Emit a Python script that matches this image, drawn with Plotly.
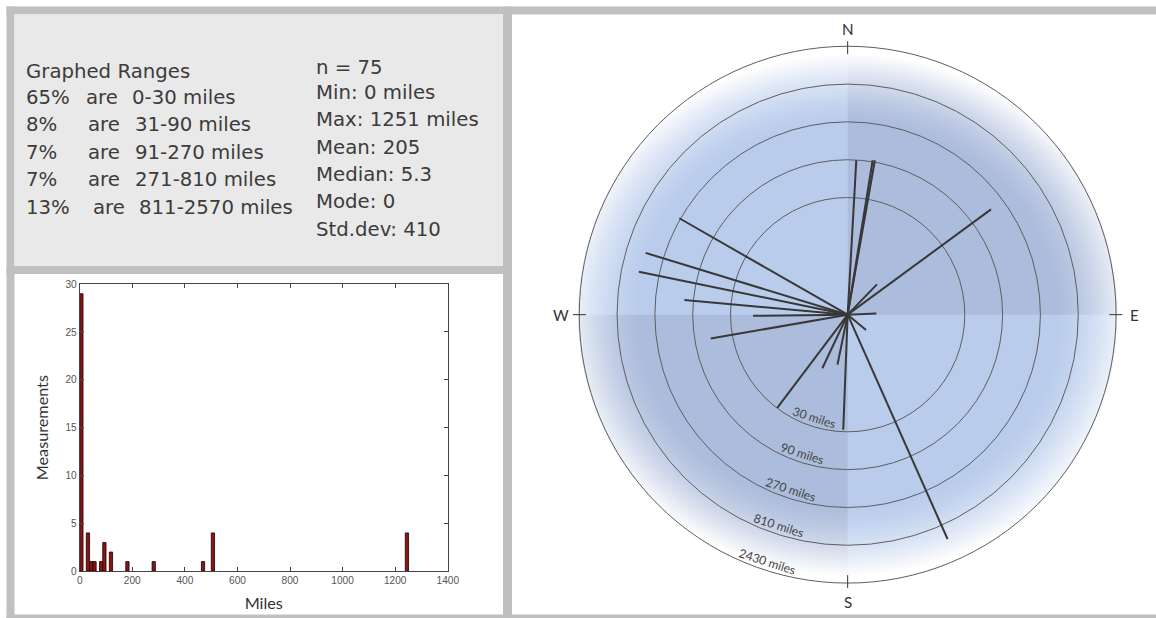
import base64, struct, zlib
import numpy as np
import plotly.graph_objects as go

W, H = 1156, 618
# the capture maps page pixels to picture pixels as  pic = SC * page + OFF ;
# layout coordinates below are written in picture pixels and converted back.
SC, OFF = 0.988, 2.5

# ---------------- data ----------------
# histogram (MATLAB-style, 100 bins of 12.51 miles)
bin_width = 12.51
bin_centers = [6.3, 31.3, 43.8, 56.3, 81.3, 93.8, 118.8, 181.4, 281.5, 469.1, 506.7, 1244.7]
bin_counts = [29, 4, 1, 1, 1, 3, 2, 1, 1, 1, 4, 4]

# rose: compass bearing (deg) and distance (miles) of each measurement line
bearings = [299.8, 287.0, 281.6, 275.1, 269.3, 260.1, 217.1, 205.3, 191.5, 182.2,
            156.0, 129.7, 87.6, 44.0, 53.7, 3.2, 9.2, 10.0]
distances = [280, 462, 488, 117, 15.6, 56.6, 29.7, 5.6, 4.4, 28.3,
             1251, 2.0, 2.3, 3.4, 175, 89, 94, 95]

ring_values = [30, 90, 270, 810, 2430]
compass_labels = ["N", "E", "S", "W"]
compass_bearings = [0, 90, 180, 270]

stats_lines = ["n = 75", "Min: 0 miles", "Max: 1251 miles", "Mean: 205",
               "Median: 5.3", "Mode: 0", "Std.dev: 410"]
range_pcts = ["65%", "8%", "7%", "7%", "13%"]
range_labels = ["0-30 miles", "31-90 miles", "91-270 miles", "271-810 miles", "811-2570 miles"]

# ---------------- helpers (picture pixel -> paper) ----------------
def px(x):
    return ((x - OFF) / SC) / W

def py(y):
    return 1 - ((y - OFF) / SC) / H

def fs(s):
    return s / SC

CX, CY, R = 848, 314, 270
RMAX = ring_values[-1]
LOGMAX = np.log10(RMAX)

def rpix(miles):
    return R * np.log10(max(miles, 1)) / LOGMAX

def png_uri(arr):
    h, w, _ = arr.shape
    raw = b"".join(b"\x00" + arr[i].tobytes() for i in range(h))
    def chunk(t, d):
        c = struct.pack(">I", len(d)) + t + d
        return c + struct.pack(">I", zlib.crc32(t + d) & 0xffffffff)
    png = (b"\x89PNG\r\n\x1a\n" + chunk(b"IHDR", struct.pack(">IIBBBBB", w, h, 8, 2, 0, 0, 0))
           + chunk(b"IDAT", zlib.compress(raw, 9)) + chunk(b"IEND", b""))
    return "data:image/png;base64," + base64.b64encode(png).decode()

# background gradient of the rose
S = 2 * R
yy, xx = np.mgrid[0:S, 0:S] + 0.5
dx = xx - R
dy = yy - R
rho = np.sqrt((dx / 285.0) ** 2 + (dy / 262.0) ** 2)
wf = np.clip((rho - 0.72) / 0.28, 0, 1) ** 1.5
light = np.array([185, 204, 236], float)
dark = np.array([172, 188, 220], float)
dq = ((dx > 0) & (dy < 0)) | ((dx < 0) & (dy > 0))
base = np.where(dq[..., None], dark, light)
col = base * (1 - wf[..., None]) + 255 * wf[..., None]
outside = np.sqrt(dx ** 2 + dy ** 2) > R
col[outside] = 255
img = np.clip(col, 0, 255).astype(np.uint8)

fig = go.Figure()

# histogram
fig.add_trace(go.Bar(
    x=bin_centers, y=bin_counts, width=bin_width,
    marker=dict(color="#8a1414", line=dict(color="#1a0000", width=0.8)),
    xaxis="x", yaxis="y", showlegend=False, hoverinfo="skip"))

# rose lines
rr, tt = [], []
for b, d in zip(bearings, distances):
    rr += [1, d, None]
    tt += [b, b, None]
fig.add_trace(go.Scatterpolar(
    r=rr, theta=tt, mode="lines", line=dict(color="#383838", width=2),
    showlegend=False, hoverinfo="skip", connectgaps=False))

shapes = []
def rect(x0, y0, x1, y1, color):
    shapes.append(dict(type="rect", xref="paper", yref="paper", x0=px(x0), x1=px(x1),
                       y0=py(y1), y1=py(y0), fillcolor=color, line=dict(width=0), layer="below"))

GRAY = "#c0c0c0"
rect(6, 4, W + 20, 12, GRAY)
rect(6, 4, 14, H + 20, GRAY)
rect(6, 615.5, W + 20, H + 20, GRAY)
rect(503, 4, 512, H + 20, GRAY)
rect(6, 265, 512, 273, GRAY)
rect(14, 12, 503, 265, "#e9e9e9")

# compass ticks
for b in compass_bearings:
    a = np.radians(b)
    x0 = CX + 262 * np.sin(a); y0 = CY - 262 * np.cos(a)
    x1 = CX + 275 * np.sin(a); y1 = CY - 275 * np.cos(a)
    shapes.append(dict(type="line", xref="paper", yref="paper", x0=px(x0), y0=py(y0),
                       x1=px(x1), y1=py(y1), line=dict(color="#333333", width=1)))

annotations = []
for lab, b in zip(compass_labels, compass_bearings):
    a = np.radians(b)
    rl = 287 if lab != "S" else 289
    annotations.append(dict(x=px(CX + rl * np.sin(a)), y=py(CY - rl * np.cos(a)), xref="paper",
                            yref="paper", text=lab, showarrow=False,
                            font=dict(family="Lato", size=fs(15), color="#333333"),
                            xanchor="center", yanchor="middle"))

# ring labels
for v in ring_values:
    a = np.radians(198)
    rl = rpix(v) - 9
    annotations.append(dict(x=px(CX + rl * np.sin(a)), y=py(CY - rl * np.cos(a)), xref="paper",
                            yref="paper", text=f"{v} miles", showarrow=False, textangle=18,
                            font=dict(family="Lato", size=fs(12), color="#444444"),
                            xanchor="center", yanchor="middle"))

TXT = dict(family="DejaVu Sans", size=fs(19.5), color="#3c3c3c")
def label(x, y, t):
    annotations.append(dict(x=px(x - 2.5), y=py(y - 1), xref="paper", yref="paper", text=t,
                            showarrow=False, font=TXT, xanchor="left", yanchor="middle"))

label(26, 70, "Graphed Ranges")
row_y = [97, 124, 152, 179, 207]
for i, (p, rl) in enumerate(zip(range_pcts, range_labels)):
    label(26, row_y[i], p)
    if i == 0:
        label(86, row_y[i], "are"); label(132, row_y[i], rl)
    elif len(p) > 2:
        label(93, row_y[i], "are"); label(139, row_y[i], rl)
    else:
        label(88, row_y[i], "are"); label(135, row_y[i], rl)
stats_y = [66, 92, 119, 147, 174, 201, 229]
for yv, s in zip(stats_y, stats_lines):
    label(316, yv, s)

AX_FONT = dict(family="Liberation Sans", size=fs(10), color="#555")
fig.update_layout(
    width=W, height=H, autosize=False,
    margin=dict(l=0, r=0, t=0, b=0),
    paper_bgcolor="white", plot_bgcolor="white",
    shapes=shapes, annotations=annotations,
    images=[dict(source=png_uri(img), xref="paper", yref="paper", x=px(CX - R), y=py(CY - R),
                 sizex=px(CX + R) - px(CX - R), sizey=py(CY - R) - py(CY + R),
                 sizing="stretch", layer="below", xanchor="left", yanchor="top")],
    xaxis=dict(domain=[px(79.3), px(447.7)], range=[0, 1400], tickvals=list(range(0, 1401, 200)),
               ticks="inside", ticklen=4, tickcolor="#444", mirror="ticks", showline=True,
               linecolor="#444", linewidth=1, showgrid=False, zeroline=False, tickfont=AX_FONT,
               title=dict(text="Miles", font=dict(family="Lato", size=fs(16), color="#333"), standoff=12)),
    yaxis=dict(domain=[py(572), py(283.3)], range=[0, 30], tickvals=list(range(0, 31, 5)),
               ticks="inside", ticklen=4, tickcolor="#444", mirror="ticks", showline=True,
               linecolor="#444", linewidth=1, showgrid=False, zeroline=False, tickfont=AX_FONT,
               title=dict(text="Measurements", font=dict(family="Lato", size=fs(16), color="#333"), standoff=12)),
    polar=dict(
        domain=dict(x=[px(CX - R), px(CX + R)], y=[py(CY + R), py(CY - R)]),
        bgcolor="rgba(0,0,0,0)",
        radialaxis=dict(type="log", range=[0, LOGMAX], tickvals=ring_values[:-1],
                        showticklabels=False, ticks="", showline=False,
                        gridcolor="#5e5e5e", gridwidth=1),
        angularaxis=dict(rotation=90, direction="clockwise", showgrid=False,
                         showticklabels=False, ticks="", showline=True,
                         linecolor="#5e5e5e", linewidth=1),
    ),
)

fig.write_html("out.html", config={"displayModeBar": False},
               post_script="document.body.style.margin='0';")
